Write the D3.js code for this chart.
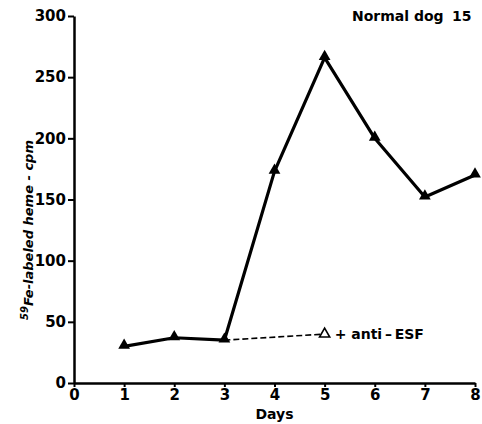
<!DOCTYPE html>
<html>
<head>
<meta charset="utf-8">
<script src="https://cdn.jsdelivr.net/npm/d3@7"></script>
<style>
  body { margin: 0; background: #fff; }
  text { font-family: "DejaVu Sans", sans-serif; fill: #000; }
</style>
</head>
<body>
<div id="chart"></div>
<script>
// data
const days = [1, 2, 3, 4, 5, 6, 7, 8];
const heme = [30, 37, 35, 173, 266, 200, 152, 170];
const antiDays = [3, 5];
const antiHeme = [35, 40];
const xTicks = [0, 1, 2, 3, 4, 5, 6, 7, 8];
const yTicks = [0, 50, 100, 150, 200, 250, 300];

const width = 482, height = 424;
const svg = d3.select("#chart").append("svg").attr("width", width).attr("height", height);

const x = d3.scaleLinear().domain([0, 8]).range([74, 475]);
const y = d3.scaleLinear().domain([0, 300]).range([383, 16]);

// axes
const xAxis = svg.append("g").attr("transform", `translate(0,${y(0)})`)
    .call(d3.axisBottom(x).tickValues(xTicks).tickSize(4).tickSizeOuter(0).tickPadding(2));
const yAxis = svg.append("g").attr("transform", `translate(${x(0)},0)`)
    .call(d3.axisLeft(y).tickValues(yTicks).tickSize(6).tickSizeOuter(0).tickPadding(2));
[xAxis, yAxis].forEach(g => {
    g.select(".domain").attr("stroke", "#000").attr("stroke-width", 2.5);
    g.selectAll(".tick line").attr("stroke", "#000").attr("stroke-width", 2);
    g.selectAll(".tick text").style("font-size", "15px").style("font-weight", "bold").attr("fill", "#000");
});

// main series
const pts = days.map((d, i) => [d, heme[i]]);
const line = d3.line().x(d => x(d[0])).y(d => y(d[1]));
svg.append("path").datum(pts).attr("d", line)
    .attr("fill", "none").attr("stroke", "#000").attr("stroke-width", 3.2).attr("stroke-linejoin", "round");

// anti-ESF dashed
const aPts = antiDays.map((d, i) => [d, antiHeme[i]]);
svg.append("path").datum(aPts).attr("d", line)
    .attr("fill", "none").attr("stroke", "#000").attr("stroke-width", 1.6).attr("stroke-dasharray", "6,3");

const tri = d3.symbol().type(d3.symbolTriangle).size(60);
svg.selectAll(".pt").data(pts).enter().append("path")
    .attr("d", tri)
    .attr("transform", d => `translate(${x(d[0])},${y(d[1]) - 1})`)
    .attr("fill", "#000");
svg.append("path").attr("d", d3.symbol().type(d3.symbolTriangle).size(45))
    .attr("transform", `translate(${x(antiDays[1])},${y(antiHeme[1])})`)
    .attr("fill", "#fff").attr("stroke", "#000").attr("stroke-width", 1.6);

svg.append("text").attr("x", x(antiDays[1]) + 10).attr("y", y(antiHeme[1]) + 5)
    .style("font-size", "14px").style("font-weight", "bold").text("+ anti\u2009\u2013\u2009ESF");

// labels
svg.append("text").attr("x", 352).attr("y", 21)
    .style("font-size", "14px").style("font-weight", "bold").text("Normal dog");
svg.append("text").attr("x", 452).attr("y", 21)
    .style("font-size", "14px").style("font-weight", "bold").text("15");

svg.append("text").attr("x", x(4)).attr("y", 419).attr("text-anchor", "middle")
    .style("font-size", "14px").style("font-weight", "bold").text("Days");

const yl = svg.append("text").attr("transform", `translate(33,230) rotate(-90)`)
    .attr("text-anchor", "middle")
    .style("font-size", "13px").style("font-weight", "bold").style("font-style", "italic");
yl.append("tspan").style("font-size", "10px").attr("dy", "-5").text("59");
yl.append("tspan").attr("dy", "5").text("Fe-labeled heme - cpm");
</script>
</body>
</html>
